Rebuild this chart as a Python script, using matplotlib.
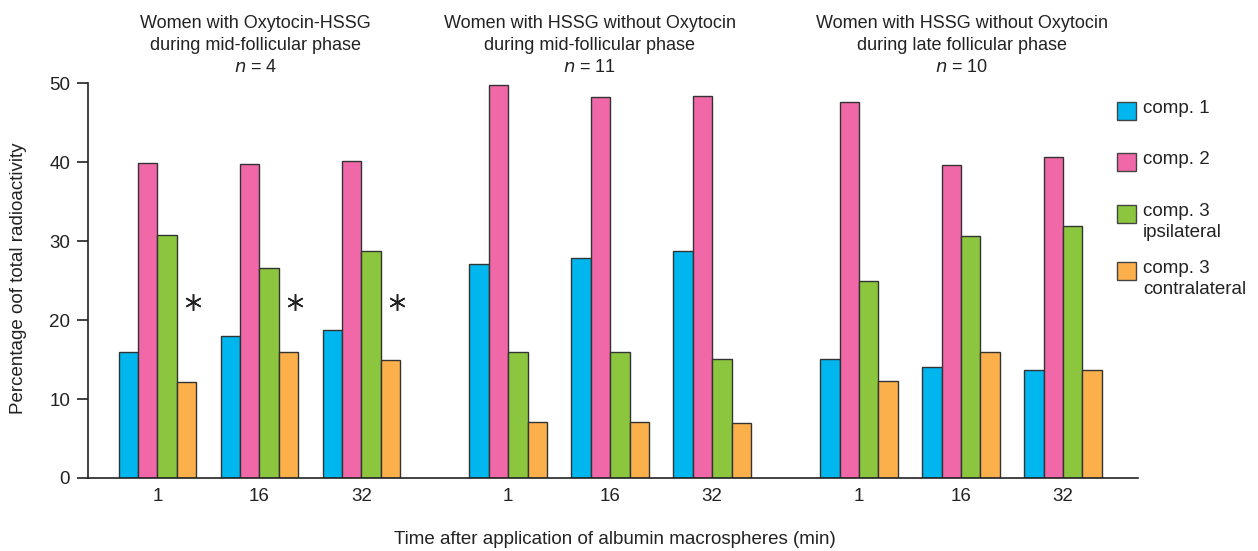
import numpy as np
import matplotlib
matplotlib.use("Agg")
import matplotlib.pyplot as plt
from matplotlib.patches import Rectangle

plt.rcParams['font.family'] = ['Liberation Sans', 'DejaVu Sans']

# groups: 3 panels x 3 time points
time_labels = ["1", "16", "32", "1", "16", "32", "1", "16", "32"]
group_pos = [0, 1, 2, 3.44, 4.44, 5.44, 6.88, 7.88, 8.88]

comp1 = [15.9, 18.0, 18.8, 27.1, 27.8, 28.8, 15.1, 14.1, 13.7]
comp2 = [39.9, 39.8, 40.2, 49.8, 48.3, 48.4, 47.6, 39.7, 40.7]
comp3_ipsi = [30.8, 26.6, 28.8, 16.0, 15.9, 15.1, 24.9, 30.6, 31.9]
comp3_contra = [12.1, 15.9, 14.9, 7.1, 7.1, 7.0, 12.3, 15.9, 13.7]

series = [comp1, comp2, comp3_ipsi, comp3_contra]
series_names = ["comp. 1", "comp. 2", "comp. 3\nipsilateral", "comp. 3\ncontralateral"]
colors = ["#00B6EE", "#F068A7", "#8CC63F", "#FBB04B"]

panel_titles = [
    "Women with Oxytocin-HSSG\nduring mid-follicular phase\n$n$ = 4",
    "Women with HSSG without Oxytocin\nduring mid-follicular phase\n$n$ = 11",
    "Women with HSSG without Oxytocin\nduring late follicular phase\n$n$ = 10",
]
title_pos = [0.96, 4.24, 7.89]

star_idx = [0, 1, 2]
star_y = 22.3

TXT = "#222222"
W, H = 1258, 551

fig = plt.figure(figsize=(12.58, 5.51), dpi=100)
ax = fig.add_axes([0.07, 0.1325, 0.835, 0.7165])

width = 0.19
x = np.array(group_pos)
for k, (vals, col) in enumerate(zip(series, colors)):
    ax.bar(x + (k - 1.5) * width, vals, width, color=col,
           edgecolor="#333333", linewidth=1.0, zorder=2)

# significance asterisks next to the contralateral bars
ax.plot(x[star_idx] + 1.5 * width + 0.065, [star_y] * len(star_idx),
        linestyle="none", marker=(6, 2, 0), markersize=12, markeredgewidth=1.1,
        color=TXT)

ax.set_xlim(-0.68, 9.62)
ax.set_ylim(0, 50)
ax.set_yticks([0, 10, 20, 30, 40, 50])
ax.set_xticks(x)
ax.set_xticklabels(time_labels)
ax.tick_params(axis="x", length=0, pad=7, labelsize=13.5, colors=TXT)
ax.tick_params(axis="y", length=8, width=1.2, pad=5, labelsize=13.5, colors=TXT)
for s in ["top", "right"]:
    ax.spines[s].set_visible(False)
for s in ["left", "bottom"]:
    ax.spines[s].set_linewidth(1.2)
    ax.spines[s].set_color(TXT)

fig.text(19 / W, (H - 278) / H, "Percentage oof total radioactivity", rotation=90,
         ha="center", va="center", fontsize=13.5, color=TXT)
fig.text(615 / W, (H - 540) / H, "Time after application of albumin macrospheres (min)",
         ha="center", va="center", fontsize=13.5, color=TXT)

for t, p in zip(panel_titles, title_pos):
    ax.text(p, 1.0 + 7 / 395, t, ha="center", va="bottom", fontsize=13,
            linespacing=1.4, transform=ax.get_xaxis_transform(), color=TXT)

# legend drawn by hand (pixel rows from the top)
leg_y = [111, 162, 214, 271]
for name, col, yy in zip(series_names, colors, leg_y):
    fig.patches.append(Rectangle((1117 / W, (H - yy - 9) / H), 19 / W, 18 / H,
                                 transform=fig.transFigure, facecolor=col,
                                 edgecolor="#444444", linewidth=1.0))
    fig.text(1143 / W, (H - yy + 11) / H, name, ha="left", va="top",
             fontsize=13.5, linespacing=1.3, color=TXT)

fig.savefig("out.png", dpi=100)
